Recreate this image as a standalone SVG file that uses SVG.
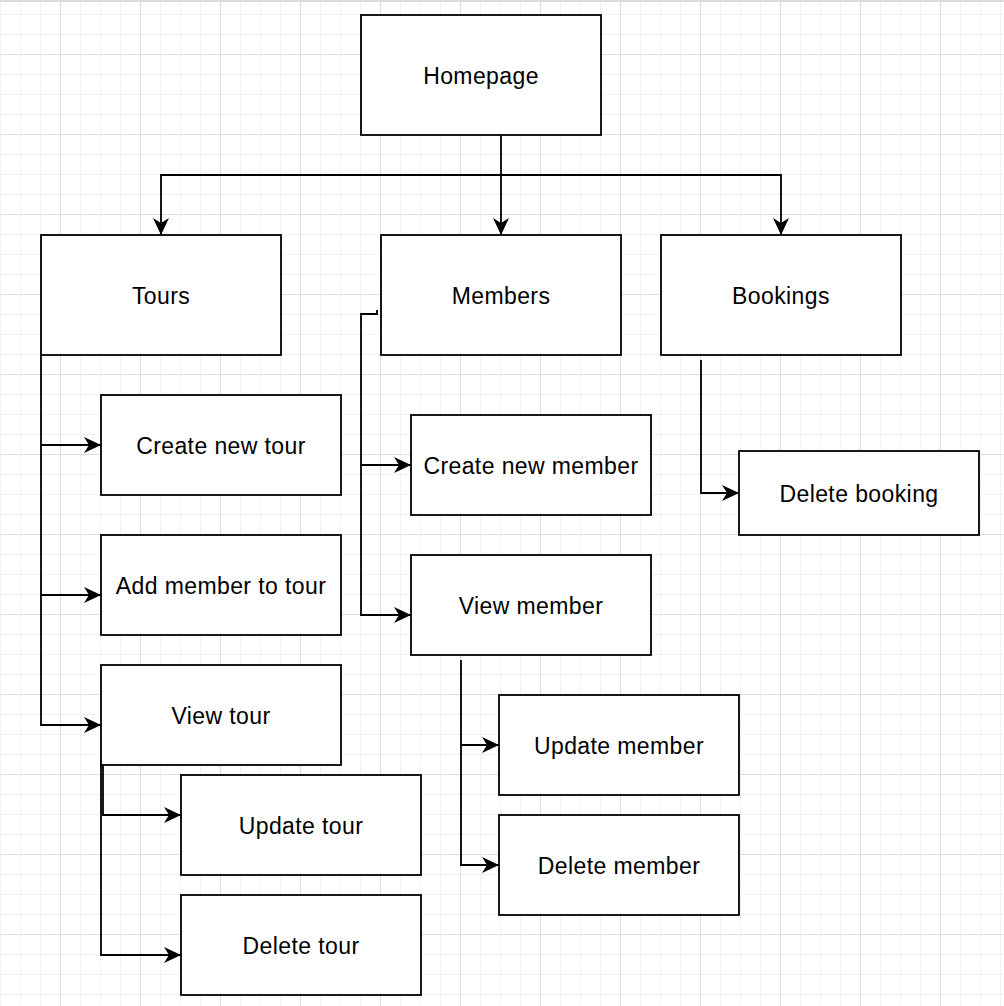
<svg xmlns="http://www.w3.org/2000/svg" width="1004" height="1006" viewBox="0 0 1004 1006">
  <defs>
    <pattern id="grid" x="0" y="14" width="80" height="80" patternUnits="userSpaceOnUse">
      <path d="M0.5 0V80M20.5 0V80M40.5 0V80M0 0.5H80M0 20.5H80M0 60.5H80" fill="none" stroke="#f1f1f1" stroke-width="1"/>
      <path d="M60.5 0V80M0 40.5H80" fill="none" stroke="#dedede" stroke-width="1"/>
    </pattern>
    <marker id="arrow" markerUnits="userSpaceOnUse" markerWidth="20" markerHeight="20" refX="17" refY="8" orient="auto" overflow="visible">
      <path d="M17,8 L0,0 L5,8 L0,16 Z" fill="#000"/>
    </marker>
    <style>
      .box { fill: #ffffff; stroke: #000000; stroke-width: 1.8; }
      .label { font-family: "Liberation Sans", Arial, Helvetica, sans-serif; font-size: 23px; letter-spacing: 0.4px; fill: #000000; text-anchor: middle; }
      .edge { fill: none; stroke: #000000; stroke-width: 1.8; }
      .arrow { marker-end: url(#arrow); }
    </style>
  </defs>

  <rect x="0" y="0" width="1004" height="1006" fill="#ffffff"/>
  <rect x="0" y="0" width="1004" height="1006" fill="url(#grid)"/>
  <rect x="0" y="0" width="1004" height="2" fill="#dcdce0"/>

  <g id="connectors">
    <path class="edge arrow" d="M501,135 V235"/>
    <path class="edge arrow" d="M501,175 H161 V235"/>
    <path class="edge arrow" d="M501,175 H781 V235"/>
    <path class="edge arrow" d="M41,355 V445 H101"/>
    <path class="edge arrow" d="M41,445 V595 H101"/>
    <path class="edge arrow" d="M41,595 V725 H101"/>
    <path class="edge arrow" d="M377,310 V314 H361 V465 H411"/>
    <path class="edge arrow" d="M361,465 V615 H411"/>
    <path class="edge arrow" d="M701,360 V493 H739"/>
    <path class="edge arrow" d="M461,660 V745 H499"/>
    <path class="edge arrow" d="M461,745 V865 H499"/>
    <path class="edge arrow" d="M103,760 V815 H181"/>
    <path class="edge arrow" d="M101,760 V955 H181"/>
  </g>

  <g id="homepage"><rect class="box" x="361" y="15" width="240" height="120"/><text class="label" x="481" y="84">Homepage</text></g>
  <g id="tours"><rect class="box" x="41" y="235" width="240" height="120"/><text class="label" x="161" y="304">Tours</text></g>
  <g id="members"><rect class="box" x="381" y="235" width="240" height="120"/><text class="label" x="501" y="304">Members</text></g>
  <g id="bookings"><rect class="box" x="661" y="235" width="240" height="120"/><text class="label" x="781" y="304">Bookings</text></g>
  <g id="create-new-tour"><rect class="box" x="101" y="395" width="240" height="100"/><text class="label" x="221" y="454">Create new tour</text></g>
  <g id="add-member-to-tour"><rect class="box" x="101" y="535" width="240" height="100"/><text class="label" x="221" y="594">Add member to tour</text></g>
  <g id="view-tour"><rect class="box" x="101" y="665" width="240" height="100"/><text class="label" x="221" y="724">View tour</text></g>
  <g id="update-tour"><rect class="box" x="181" y="775" width="240" height="100"/><text class="label" x="301" y="834">Update tour</text></g>
  <g id="delete-tour"><rect class="box" x="181" y="895" width="240" height="100"/><text class="label" x="301" y="954">Delete tour</text></g>
  <g id="create-new-member"><rect class="box" x="411" y="415" width="240" height="100"/><text class="label" x="531" y="474">Create new member</text></g>
  <g id="view-member"><rect class="box" x="411" y="555" width="240" height="100"/><text class="label" x="531" y="614">View member</text></g>
  <g id="update-member"><rect class="box" x="499" y="695" width="240" height="100"/><text class="label" x="619" y="754">Update member</text></g>
  <g id="delete-member"><rect class="box" x="499" y="815" width="240" height="100"/><text class="label" x="619" y="874">Delete member</text></g>
  <g id="delete-booking"><rect class="box" x="739" y="451" width="240" height="84"/><text class="label" x="859" y="502">Delete booking</text></g>
</svg>
